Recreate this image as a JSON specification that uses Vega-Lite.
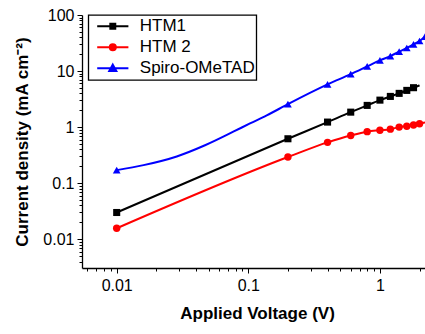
{
  "$schema": "https://vega.github.io/schema/vega-lite/v6.json",
  "width": 343,
  "height": 253,
  "autosize": {"type": "none"},
  "padding": {"left": 82, "top": 15, "right": 0, "bottom": 66},
  "background": "white",
  "config": {"view": {"stroke": null}, "font": "Liberation Sans"},
  "datasets": {
    "lines": [
      {"series": "HTM1", "V": 0.01, "J": 0.03},
      {"series": "HTM1", "V": 0.2, "J": 0.62},
      {"series": "HTM1", "V": 0.4, "J": 1.23},
      {"series": "HTM1", "V": 0.6, "J": 1.85},
      {"series": "HTM1", "V": 0.8, "J": 2.44},
      {"series": "HTM1", "V": 1.0, "J": 3.03},
      {"series": "HTM1", "V": 1.2, "J": 3.53},
      {"series": "HTM1", "V": 1.4, "J": 4.0},
      {"series": "HTM1", "V": 1.6, "J": 4.52},
      {"series": "HTM1", "V": 1.8, "J": 5.05},
      {"series": "HTM1", "V": 2.0, "J": 5.55},
      {"series": "HTM 2", "V": 0.01, "J": 0.0157},
      {"series": "HTM 2", "V": 0.2, "J": 0.293},
      {"series": "HTM 2", "V": 0.4, "J": 0.535},
      {"series": "HTM 2", "V": 0.6, "J": 0.71},
      {"series": "HTM 2", "V": 0.8, "J": 0.83},
      {"series": "HTM 2", "V": 1.0, "J": 0.88},
      {"series": "HTM 2", "V": 1.2, "J": 0.92},
      {"series": "HTM 2", "V": 1.4, "J": 1.0},
      {"series": "HTM 2", "V": 1.6, "J": 1.04},
      {"series": "HTM 2", "V": 1.8, "J": 1.09},
      {"series": "HTM 2", "V": 2.0, "J": 1.15},
      {"series": "HTM 2", "V": 2.2, "J": 1.21},
      {"series": "Spiro-OMeTAD", "V": 0.01, "J": 0.171},
      {"series": "Spiro-OMeTAD", "V": 0.016, "J": 0.21},
      {"series": "Spiro-OMeTAD", "V": 0.0286, "J": 0.3},
      {"series": "Spiro-OMeTAD", "V": 0.0469, "J": 0.475},
      {"series": "Spiro-OMeTAD", "V": 0.0769, "J": 0.828},
      {"series": "Spiro-OMeTAD", "V": 0.103, "J": 1.164},
      {"series": "Spiro-OMeTAD", "V": 0.138, "J": 1.618},
      {"series": "Spiro-OMeTAD", "V": 0.2, "J": 2.57},
      {"series": "Spiro-OMeTAD", "V": 0.4, "J": 5.78},
      {"series": "Spiro-OMeTAD", "V": 0.6, "J": 8.8},
      {"series": "Spiro-OMeTAD", "V": 0.8, "J": 12.1},
      {"series": "Spiro-OMeTAD", "V": 1.0, "J": 15.5},
      {"series": "Spiro-OMeTAD", "V": 1.2, "J": 18.5},
      {"series": "Spiro-OMeTAD", "V": 1.4, "J": 22.2},
      {"series": "Spiro-OMeTAD", "V": 1.6, "J": 25.8},
      {"series": "Spiro-OMeTAD", "V": 1.8, "J": 29.9},
      {"series": "Spiro-OMeTAD", "V": 2.0, "J": 34.4},
      {"series": "Spiro-OMeTAD", "V": 2.2, "J": 41}
    ],
    "markers": [
      {"series": "HTM1", "V": 0.01, "J": 0.03},
      {"series": "HTM1", "V": 0.2, "J": 0.62},
      {"series": "HTM1", "V": 0.4, "J": 1.23},
      {"series": "HTM1", "V": 0.6, "J": 1.85},
      {"series": "HTM1", "V": 0.8, "J": 2.44},
      {"series": "HTM1", "V": 1.0, "J": 3.03},
      {"series": "HTM1", "V": 1.2, "J": 3.53},
      {"series": "HTM1", "V": 1.4, "J": 4.0},
      {"series": "HTM1", "V": 1.6, "J": 4.52},
      {"series": "HTM1", "V": 1.8, "J": 5.05},
      {"series": "HTM 2", "V": 0.01, "J": 0.0157},
      {"series": "HTM 2", "V": 0.2, "J": 0.293},
      {"series": "HTM 2", "V": 0.4, "J": 0.535},
      {"series": "HTM 2", "V": 0.6, "J": 0.71},
      {"series": "HTM 2", "V": 0.8, "J": 0.83},
      {"series": "HTM 2", "V": 1.0, "J": 0.88},
      {"series": "HTM 2", "V": 1.2, "J": 0.92},
      {"series": "HTM 2", "V": 1.4, "J": 1.0},
      {"series": "HTM 2", "V": 1.6, "J": 1.04},
      {"series": "HTM 2", "V": 1.8, "J": 1.09},
      {"series": "HTM 2", "V": 2.0, "J": 1.15},
      {"series": "Spiro-OMeTAD", "V": 0.01, "J": 0.171},
      {"series": "Spiro-OMeTAD", "V": 0.2, "J": 2.57},
      {"series": "Spiro-OMeTAD", "V": 0.4, "J": 5.78},
      {"series": "Spiro-OMeTAD", "V": 0.6, "J": 8.8},
      {"series": "Spiro-OMeTAD", "V": 0.8, "J": 12.1},
      {"series": "Spiro-OMeTAD", "V": 1.0, "J": 15.5},
      {"series": "Spiro-OMeTAD", "V": 1.2, "J": 18.5},
      {"series": "Spiro-OMeTAD", "V": 1.4, "J": 22.2},
      {"series": "Spiro-OMeTAD", "V": 1.6, "J": 25.8},
      {"series": "Spiro-OMeTAD", "V": 1.8, "J": 29.9},
      {"series": "Spiro-OMeTAD", "V": 2.0, "J": 34.4},
      {"series": "Spiro-OMeTAD", "V": 2.2, "J": 41}
    ]
  },
  "encoding": {
    "x": {
      "field": "V", "type": "quantitative",
      "scale": {"type": "log", "domain": [0.00545, 2.2], "nice": false, "zero": false},
      "axis": {
        "title": "Applied Voltage (V)",
        "titleFont": "Liberation Sans", "titleFontSize": 17, "titleFontWeight": "bold", "titleColor": "black",
        "titlePadding": 12, "titleX": 175,
        "values": [0.006, 0.007, 0.008, 0.009, 0.01, 0.02, 0.03, 0.04, 0.05, 0.06, 0.07, 0.08, 0.09, 0.1, 0.2, 0.3, 0.4, 0.5, 0.6, 0.7, 0.8, 0.9, 1, 2],
        "labelExpr": "datum.value == 0.01 ? '0.01' : datum.value == 0.1 ? '0.1' : datum.value == 1 ? '1' : ''",
        "labelFont": "Liberation Sans", "labelFontSize": 16, "labelColor": "black",
        "labelOverlap": false, "labelFlush": false, "labelPadding": 4,
        "tickSize": {"condition": {"test": "datum.value == 0.01 || datum.value == 0.1 || datum.value == 1", "value": 5}, "value": 3},
        "tickColor": "black", "tickWidth": 1,
        "domainColor": "black", "domainWidth": 1.3, "grid": false
      }
    },
    "y": {
      "field": "J", "type": "quantitative",
      "scale": {"type": "log", "domain": [0.00307, 100], "nice": false, "zero": false},
      "axis": {
        "title": "Current density (mA cm⁻²)",
        "titleFont": "Liberation Sans", "titleFontSize": 17, "titleFontWeight": "bold", "titleColor": "black",
        "titlePadding": 11,
        "values": [0.004, 0.005, 0.006, 0.007, 0.008, 0.009, 0.01, 0.02, 0.03, 0.04, 0.05, 0.06, 0.07, 0.08, 0.09, 0.1, 0.2, 0.3, 0.4, 0.5, 0.6, 0.7, 0.8, 0.9, 1, 2, 3, 4, 5, 6, 7, 8, 9, 10, 20, 30, 40, 50, 60, 70, 80, 90, 100],
        "labelExpr": "datum.value == 100 ? '100' : datum.value == 10 ? '10' : datum.value == 1 ? '1' : datum.value == 0.1 ? '0.1' : datum.value == 0.01 ? '0.01' : ''",
        "labelFont": "Liberation Sans", "labelFontSize": 16, "labelColor": "black",
        "labelOverlap": false, "labelFlush": false, "labelPadding": 3,
        "tickSize": {"condition": {"test": "datum.value == 0.01 || datum.value == 0.1 || datum.value == 1 || datum.value == 10 || datum.value == 100", "value": 5}, "value": 3},
        "tickColor": "black", "tickWidth": 1,
        "domainColor": "black", "domainWidth": 1.3, "grid": false
      }
    },
    "color": {
      "field": "series", "type": "nominal",
      "scale": {"domain": ["HTM1", "HTM 2", "Spiro-OMeTAD"], "range": ["#000000", "#ff0000", "#0000ff"]},
      "legend": {
        "title": null,
        "orient": "none", "legendX": 6.3, "legendY": 0,
        "strokeColor": "black", "padding": 1, "cornerRadius": 0,
        "labelFont": "Liberation Sans", "labelFontSize": 17, "labelColor": "black",
        "labelExpr": "datum.label == 'Spiro-OMeTAD' ? datum.label : '\u00a0' + datum.label",
        "symbolOffset": 14.5, "labelOffset": 18, "rowPadding": 0,
        "clipHeight": 20.5,
        "symbolSize": 256,
        "symbolType": "M-1.95,0H1.95M-0.31,-0.31H0.31V0.31H-0.31Z",
        "encode": {
          "legend": {"update": {"strokeWidth": {"value": 1.3}}},
          "symbols": {"update": {
            "shape": {"signal": "datum.value == 'HTM1' ? 'M-1.95,0H1.95M-0.31,-0.31H0.31V0.31H-0.31Z' : datum.value == 'HTM 2' ? 'M-1.95,0H1.95M0.38,0A0.38,0.38,0,1,1,-0.38,0A0.38,0.38,0,1,1,0.38,0Z' : 'M-1.95,0H1.95M0,-0.45L0.44,0.33H-0.44Z'"},
            "stroke": {"scale": "color", "field": "value"},
            "fill": {"scale": "color", "field": "value"},
            "strokeWidth": {"value": 2},
            "size": {"value": 256},
            "opacity": {"value": 1}
          }}
        }
      }
    }
  },
  "layer": [
    {
      "data": {"name": "lines"},
      "mark": {"type": "line", "interpolate": "monotone", "strokeWidth": 2, "clip": true}
    },
    {
      "data": {"name": "markers"},
      "transform": [{"filter": "datum.series == 'HTM1'"}],
      "mark": {"type": "point", "filled": true, "opacity": 1, "size": 50, "shape": "square"}
    },
    {
      "data": {"name": "markers"},
      "transform": [{"filter": "datum.series == 'HTM 2'"}],
      "mark": {"type": "point", "filled": true, "opacity": 1, "size": 55, "shape": "circle"}
    },
    {
      "data": {"name": "markers"},
      "transform": [{"filter": "datum.series == 'Spiro-OMeTAD'"}],
      "mark": {"type": "point", "filled": true, "opacity": 1, "size": 60, "shape": "triangle-up"}
    }
  ]
}
